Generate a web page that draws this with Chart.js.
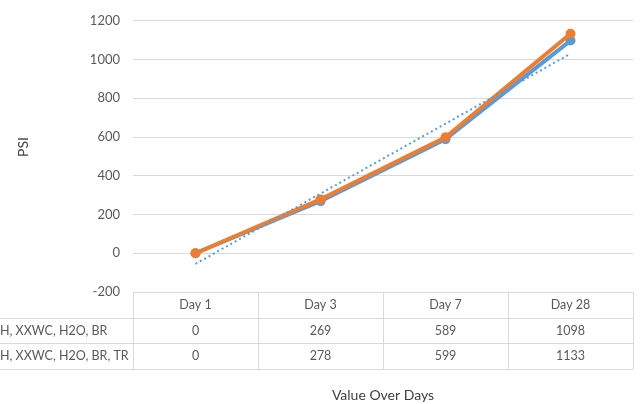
<!DOCTYPE html>
<html lang="en">
<head>
<meta charset="UTF-8">
<title>PSI Over Days</title>
<script src="https://cdn.jsdelivr.net/npm/chart.js"></script>
<style>
    * { margin: 0; padding: 0; box-sizing: border-box; }
    body { background: white; width: 640px; height: 404px; overflow: hidden; }
    #chart { display: block; }
</style>
</head>
<body>
<canvas id="chart" width="640" height="404"></canvas>
<script>
    const days = ["Day 1", "Day 3", "Day 7", "Day 28"];
    const seriesNames = ["H, XXWC, H2O, BR", "H, XXWC, H2O, BR, TR"];
    const brValues = [0, 269, 589, 1098];
    const trValues = [0, 278, 599, 1133];
    // dotted linear trendline of the BR series
    const brTrend = [-55, 308, 669, 1030];
    const yTicks = [-200, 0, 200, 400, 600, 800, 1000, 1200];

    const BLUE = "#5B9BD5";
    const ORANGE = "#ED7D31";
    const TEXT = "#595959";
    const LINES = "#d9d9d9";

    Chart.defaults.font.family = "Lato, 'Open Sans', sans-serif";

    // Excel style data table under the plot + axis titles
    const dataTable = {
        id: "dataTable",
        afterDraw(chart) {
            const ctx = chart.ctx;
            const area = chart.chartArea;
            const xs = chart.scales.x;
            const rowH = 25.7;
            const top = area.bottom;
            const colW = (area.right - area.left) / days.length;

            ctx.save();
            ctx.strokeStyle = LINES;
            ctx.lineWidth = 1;
            ctx.beginPath();
            ctx.moveTo(area.left, Math.round(top) + 0.5);
            ctx.lineTo(area.right, Math.round(top) + 0.5);
            for (let r = 1; r <= 3; r++) {
                const y = Math.round(top + r * rowH) + 0.5;
                ctx.moveTo(0, y);
                ctx.lineTo(area.right, y);
            }
            for (let c = 0; c <= days.length; c++) {
                const x = Math.round(area.left + c * colW) + 0.5;
                ctx.moveTo(x, top);
                ctx.lineTo(x, top + 3 * rowH);
            }
            ctx.stroke();

            ctx.fillStyle = TEXT;
            ctx.font = "12.5px Lato";
            ctx.textBaseline = "middle";
            ctx.textAlign = "center";
            days.forEach((d, i) => ctx.fillText(d, xs.getPixelForValue(i), top + rowH / 2));
            [brValues, trValues].forEach((vals, r) => {
                vals.forEach((v, i) => ctx.fillText(String(v), xs.getPixelForValue(i), top + (r + 1.5) * rowH));
            });
            ctx.textAlign = "left";
            seriesNames.forEach((n, r) => ctx.fillText(n, 0, top + (r + 1.5) * rowH));

            // axis titles
            ctx.fillStyle = "#404040";
            ctx.font = "14px Lato";
            ctx.textAlign = "center";
            ctx.fillText("Value Over Days", (area.left + area.right) / 2, 395);
            ctx.translate(23, 147);
            ctx.rotate(-Math.PI / 2);
            ctx.fillText("PSI", 0, 0);
            ctx.restore();
        }
    };

    new Chart(document.getElementById("chart"), {
        type: "line",
        data: {
            labels: days,
            datasets: [
                {
                    label: "Linear trend",
                    data: brTrend,
                    borderColor: BLUE,
                    borderWidth: 2,
                    borderDash: [2, 3],
                    pointRadius: 0,
                    order: 0
                },
                {
                    label: seriesNames[1],
                    data: trValues,
                    borderColor: ORANGE,
                    backgroundColor: ORANGE,
                    borderWidth: 4,
                    borderJoinStyle: "round",
                    pointRadius: 5,
                    pointBorderWidth: 0,
                    order: 1
                },
                {
                    label: seriesNames[0],
                    data: brValues,
                    borderColor: BLUE,
                    backgroundColor: BLUE,
                    borderWidth: 4,
                    borderJoinStyle: "round",
                    pointRadius: 5,
                    pointBorderWidth: 0,
                    order: 2
                }
            ]
        },
        options: {
            responsive: false,
            animation: false,
            layout: { padding: { top: 17, right: 7, bottom: 0, left: 0 } },
            plugins: {
                legend: { display: false },
                tooltip: { enabled: false }
            },
            scales: {
                x: {
                    offset: true,
                    grid: { display: false },
                    border: { display: false },
                    ticks: { display: false },
                    afterFit: s => { s.height = 112; }
                },
                y: {
                    min: -200,
                    max: 1200,
                    afterBuildTicks: s => { s.ticks = yTicks.map(v => ({ value: v })); },
                    grid: { color: LINES, drawTicks: false },
                    border: { display: false },
                    ticks: {
                        color: TEXT,
                        font: { size: 13 },
                        padding: 13,
                        callback: v => String(v)
                    },
                    afterFit: s => { s.width = 133; }
                }
            }
        },
        plugins: [dataTable]
    });
</script>
</body>
</html>
